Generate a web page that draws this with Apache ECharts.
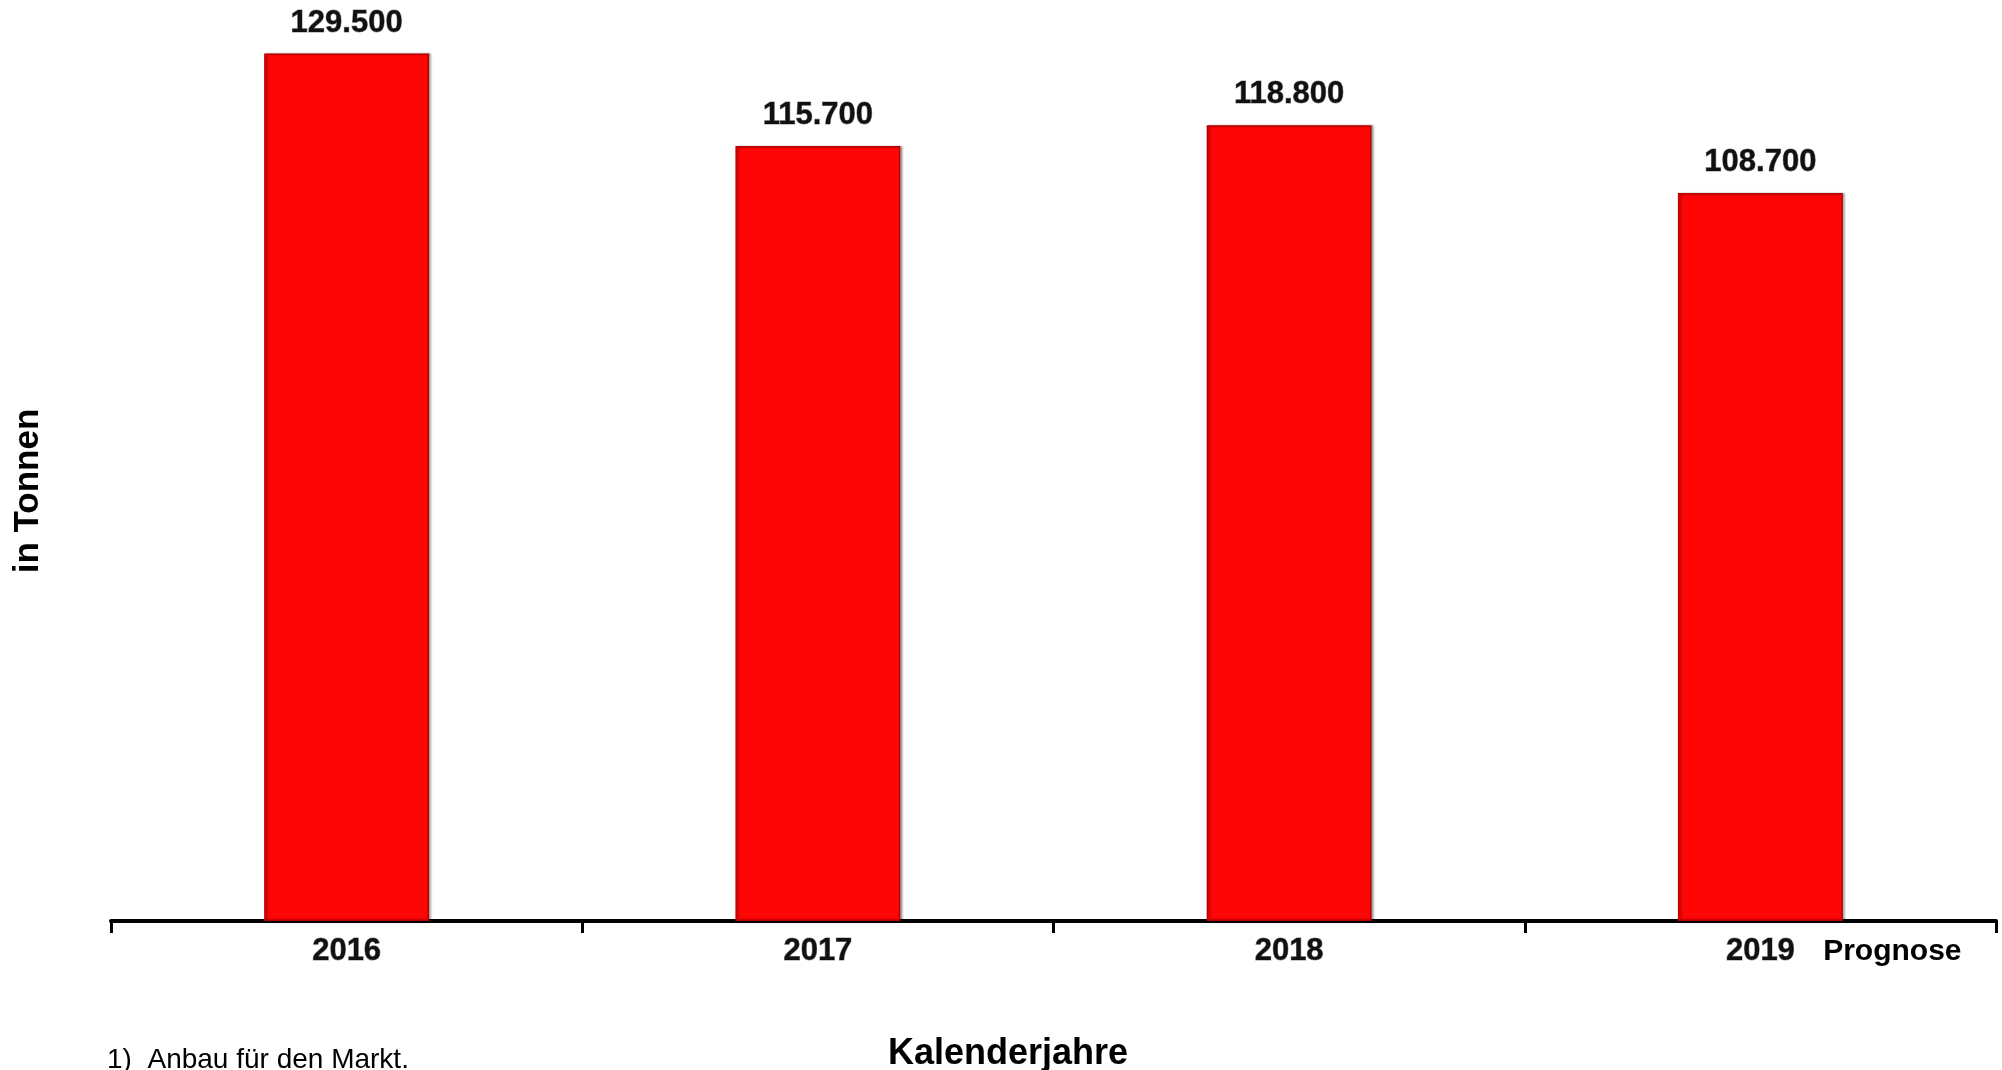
<!DOCTYPE html>
<html>
<head>
<meta charset="utf-8">
<script src="https://cdn.jsdelivr.net/npm/echarts@6/dist/echarts.min.js"></script>
<style>
html,body{margin:0;padding:0;background:#fff;}
#chart{width:2002px;height:1070px;}
</style>
</head>
<body>
<div id="chart"></div>
<script>
const categories = ['2016', '2017', '2018', '2019'];
const values = [129500, 115700, 118800, 108700];
const yAxisTitle = 'in Tonnen';
const xAxisTitle = 'Kalenderjahre';
const forecastNote = 'Prognose';
const footnote = '1)  Anbau für den Markt.';

function fmtDE(v) {
  return String(v).replace(/\B(?=(\d{3})+(?!\d))/g, '.');
}

const chart = echarts.init(document.getElementById('chart'));
const FONT = 'Liberation Sans, Arial, sans-serif';

chart.setOption({
  backgroundColor: '#ffffff',
  animation: false,
  grid: { left: 111, right: 6, top: 0, bottom: 149 },
  xAxis: {
    type: 'category',
    data: categories,
    axisLine: { show: true, lineStyle: { color: '#000', width: 4 } },
    axisTick: { show: true, length: 12, lineStyle: { color: '#000', width: 3 } },
    axisLabel: {
      margin: 15,
      formatter: function (v, i) {
        if (i === categories.length - 1) return '{s|}{y|' + v + '}{g|}{p|' + forecastNote + '}';
        return '{y|' + v + '}';
      },
      rich: {
        y: { fontSize: 31, fontWeight: 'bold', fontFamily: FONT, color: '#111', textBorderColor: 'rgba(0,0,0,0.45)', textBorderWidth: 1 },
        s: { width: 171 },
        g: { width: 24 },
        p: { width: 147, fontSize: 30, fontWeight: 'bold', fontFamily: FONT, color: '#000' }
      }
    }
  },
  yAxis: {
    type: 'value',
    min: 0,
    max: 137500,
    show: false,
    splitLine: { show: false }
  },
  series: [{
    type: 'bar',
    data: values,
    barWidth: '35%',
    itemStyle: {
      color: '#ff0606',
      borderColor: '#b80000',
      borderWidth: 1.5,
      shadowColor: 'rgba(0,0,0,0.3)',
      shadowOffsetX: 2,
      shadowOffsetY: 0,
      shadowBlur: 2
    },
    label: {
      show: true,
      position: 'top',
      distance: 15,
      formatter: function (p) { return fmtDE(p.value); },
      fontSize: 31,
      fontWeight: 'bold',
      fontFamily: FONT,
      color: '#111',
      textBorderColor: 'rgba(0,0,0,0.45)',
      textBorderWidth: 1
    }
  }],
  graphic: [
    {
      type: 'text',
      x: 28, y: 491,
      rotation: Math.PI / 2,
      style: { text: yAxisTitle, font: 'bold 35px ' + FONT, fill: '#000', align: 'center', verticalAlign: 'middle' }
    },
    {
      type: 'text',
      x: 1008, y: 1054,
      style: { text: xAxisTitle, font: 'bold 36px ' + FONT, fill: '#000', align: 'center', verticalAlign: 'middle' }
    },
    {
      type: 'text',
      x: 107, y: 1060,
      style: { text: footnote, font: '28px ' + FONT, fill: '#000', align: 'left', verticalAlign: 'middle' }
    }
  ]
});
</script>
</body>
</html>
